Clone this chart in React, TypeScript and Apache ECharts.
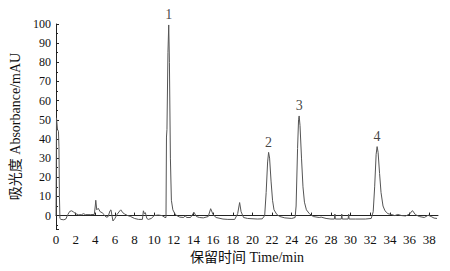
import React, { useEffect, useRef } from "react";
import * as echarts from "echarts";

const times = [
  0, 0.05, 0.15, 0.25, 0.3, 0.35, 0.4, 0.5, 0.8, 1.0, 1.2, 1.4, 1.6, 1.8, 2.0, 2.3, 2.6, 2.8, 3.0, 3.5, 3.9,
  4.0, 4.05, 4.15, 4.3, 4.5, 4.7, 4.9, 5.1, 5.3, 5.5, 5.6, 5.7, 5.8, 6.0, 6.2, 6.5, 6.6, 6.8, 7.0, 7.3, 7.6,
  8.0, 8.4, 8.8, 8.9, 9.0, 9.1, 9.25, 9.4, 9.7, 10.0, 10.4, 10.8, 11.1, 11.2, 11.25, 11.3, 11.4, 11.48, 11.55,
  11.65, 11.75, 11.9, 12.1, 12.3, 12.6, 13.0, 13.15, 13.3, 13.7, 14.05, 14.3, 14.6, 15.0, 15.5, 15.75, 16.0,
  16.3, 17.0, 17.5, 18.2, 18.5, 18.7, 18.85, 19.1, 19.5, 20.5, 21.0, 21.25, 21.4, 21.55, 21.65, 21.75, 21.9,
  22.05, 22.2, 22.5, 22.8, 23.3, 24.0, 24.35, 24.45, 24.6, 24.7, 24.76, 24.85, 25.0, 25.15, 25.3, 25.5, 25.8,
  26.2, 26.8, 27.0, 27.5, 28.0, 28.35, 28.4, 28.45, 29.05, 29.1, 29.15, 29.75, 29.8, 29.85, 30.5, 31.5, 32.1,
  32.3, 32.45, 32.6, 32.7, 32.8, 32.95, 33.1, 33.3, 33.5, 33.8, 34.2, 34.5, 34.8, 35.2, 35.6, 36.0, 36.3,
  36.6, 37.0, 37.5, 37.9, 38.2, 38.5, 38.8,
];

const absorbance = [
  0, 51, 45, 44, 36, 10, -1.5, -2, -2.2, -1.8, 0.5, 2.2, 2.5, 1.8, 1, 0.4, 0.5, 1, 0.5, 0.5, 0.6,
  5, 8, 3, 3.8, 2, 1.5, 0.5, -0.8, -0.6, 2.5, 3, 0, -2.8, -1.5, 0.5, 2.5, 3, 1.5, 0.8, 0, -0.5,
  -1.5, -2, -2, 2.5, 1, 1.5, -1.5, -2, -1.5, 0, 0.3, 0, -1, -1, 41, 45, 85, 99.5, 80,
  30, 8, 3, 1, 0, -0.8, -1, 0, -1, -1, 1.7, -0.5, -1, -1.2, -0.5, 3.6, 0.5,
  -1, -1.8, -2, -2, 1, 6.8, 2, -1, -1.5, -1.8, -1.7, 0, 12, 28, 33, 30, 18,
  8, 3, 0.5, -0.5, -1.2, -1.5, -1, 5, 35, 50, 52, 47, 30, 15, 7, 3, 1,
  -0.5, -1, -0.8, -1.5, -1.8, -1.8, 0.8, -1.8, -1.8, 0.8, -1.8, -1.8, 0.7, -1.8, -1.8, -1.8, -1.5,
  2, 15, 32, 36, 33, 22, 12, 5, 2.5, 1, 0.5, 0, 0.6, 0, -0.2, 0.8, 2.6,
  0.5, -0.5, -1, 0.2, -0.5, -1.3, -1.5,
];

const peakNames = ["1", "2", "3", "4"];
const peakTimes = [11.48, 21.65, 24.76, 32.7];
const peakHeights = [99.5, 33, 52, 36];

const serif = "Liberation Serif, Noto Sans CJK SC, serif";

export default function App() {
  const ref = useRef<HTMLDivElement>(null);
  useEffect(() => {
    document.body.style.margin = "0";
    if (!ref.current) return;
    const chart = echarts.init(ref.current, null, { renderer: "svg" });
    const lineData = times.map((t, i) => [t, absorbance[i]]);
    const peakData = peakTimes.map((t, i) => ({ value: [t, peakHeights[i]], name: peakNames[i] }));
    chart.setOption({
      animation: false,
      backgroundColor: "#fff",
      textStyle: { fontFamily: serif },
      grid: { left: 56, right: 12, top: 24, bottom: 42 },
      xAxis: {
        type: "value",
        min: 0,
        max: 38.9,
        interval: 2,
        name: "保留时间 Time/min",
        nameLocation: "middle",
        nameGap: 18,
        nameTextStyle: { fontFamily: serif, fontSize: 14, color: "#111" },
        axisLine: { show: true, lineStyle: { color: "#222", width: 1 } },
        axisTick: { show: true, inside: true, length: 3, lineStyle: { color: "#222" } },
        axisLabel: { fontFamily: serif, fontSize: 13, color: "#111", margin: 4, showMaxLabel: false },
        splitLine: { show: false },
      },
      yAxis: {
        type: "value",
        min: -7,
        max: 100,
        splitNumber: 10,
        name: "吸光度 Absorbance/mAU",
        nameLocation: "middle",
        nameGap: 28,
        nameTextStyle: { fontFamily: serif, fontSize: 14, color: "#111" },
        axisLine: { show: true, lineStyle: { color: "#222", width: 1 } },
        axisTick: { show: true, inside: true, length: 3, lineStyle: { color: "#222" } },
        minorTick: { show: true, splitNumber: 2, length: 2, lineStyle: { color: "#222" } },
        axisLabel: { fontFamily: serif, fontSize: 12, color: "#111", margin: 5, showMinLabel: false },
        splitLine: { show: false },
      },
      series: [
        {
          type: "line",
          data: lineData,
          showSymbol: false,
          symbol: "none",
          color: "#555",
          lineStyle: { color: "#555", width: 1 },
          clip: false,
        },
        {
          type: "scatter",
          data: peakData,
          symbolSize: 0,
          color: "#111",
          itemStyle: { color: "#111" },
          label: {
            show: true,
            position: "top",
            distance: 3,
            formatter: "{b}",
            fontFamily: serif,
            fontSize: 14,
            color: "#111",
            textBorderWidth: 0,
          },
        },
      ],
    });
    return () => chart.dispose();
  }, []);
  return <div ref={ref} style={{ width: 450, height: 271 }} />;
}
